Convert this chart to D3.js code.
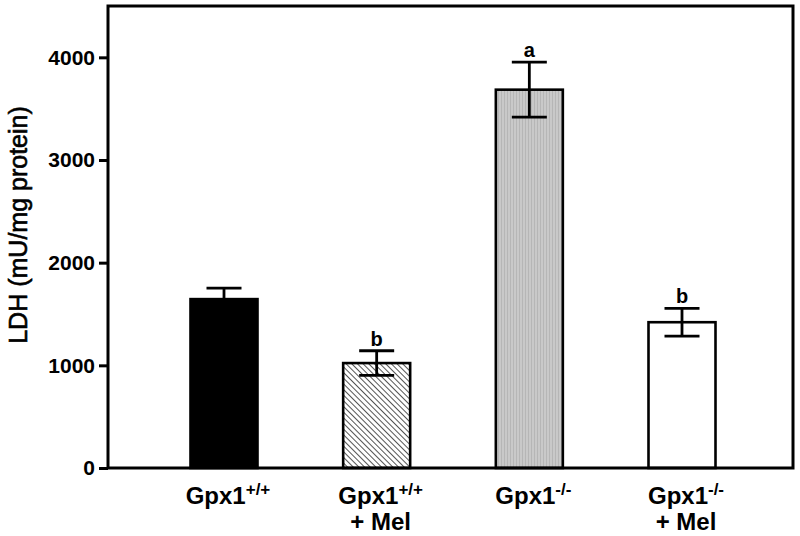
<!DOCTYPE html>
<html>
<head>
<meta charset="utf-8">
<script src="https://cdn.jsdelivr.net/npm/d3@7"></script>
<style>
  body { margin: 0; background: #fff; }
  svg { display: block; font-family: "Liberation Sans", Arial, sans-serif; }
</style>
</head>
<body>
<div id="chart"></div>
<script>
(function() {
    'use strict';

    var groups = ["g1", "g2", "g3", "g4"];
    var labelMain = ["Gpx1", "Gpx1", "Gpx1", "Gpx1"];
    var labelSup = ["+/+", "+/+", "-/-", "-/-"];
    var labelSecond = ["", "+ Mel", "", "+ Mel"];
    var means = [1645, 1022, 3685, 1420];
    var sems = [108, 120, 268, 135];
    var letters = ["", "b", "a", "b"];
    var fills = ["#000", "url(#hatch)", "url(#vstripe)", "#fff"];
    var yTicks = [0, 1000, 2000, 3000, 4000];

    var width = 800, height = 536;
    var left = 108, right = 793, top = 6, bottom = 468;
    var barWidth = 67, capHalf = 17.5;

    var svg = d3.select("#chart").append("svg")
        .attr("width", width)
        .attr("height", height);

    var defs = svg.append("defs");
    var hatch = defs.append("pattern")
        .attr("id", "hatch")
        .attr("patternUnits", "userSpaceOnUse")
        .attr("width", 4).attr("height", 4)
        .attr("patternTransform", "rotate(45)");
    hatch.append("rect").attr("width", 4).attr("height", 4).attr("fill", "#fff");
    hatch.append("line")
        .attr("x1", 0).attr("y1", 0).attr("x2", 4).attr("y2", 0)
        .attr("stroke", "#555").attr("stroke-width", 2);

    var vs = defs.append("pattern")
        .attr("id", "vstripe")
        .attr("patternUnits", "userSpaceOnUse")
        .attr("width", 3).attr("height", 10);
    vs.append("rect").attr("width", 3).attr("height", 10).attr("fill", "#c9c9c9");
    vs.append("line")
        .attr("x1", 0.5).attr("y1", 0).attr("x2", 0.5).attr("y2", 10)
        .attr("stroke", "#b6b6b6").attr("stroke-width", 1);

    var y = d3.scaleLinear().domain([0, 4500]).range([bottom, top]);
    var x = d3.scalePoint().domain(groups).range([224, 682]);

    var data = groups.map(function(g, i) {
        return { key: g, mean: means[i], sem: sems[i], letter: letters[i], fill: fills[i],
                 main: labelMain[i], sup: labelSup[i], second: labelSecond[i] };
    });

    // bars
    svg.append("g").selectAll("rect").data(data).enter()
        .append("rect")
        .attr("x", function(d) { return x(d.key) - barWidth / 2; })
        .attr("y", function(d) { return y(d.mean); })
        .attr("width", barWidth)
        .attr("height", function(d) { return bottom - y(d.mean); })
        .attr("fill", function(d) { return d.fill; })
        .attr("stroke", "#000")
        .attr("stroke-width", 2.6);

    // error bars
    var eb = svg.append("g").attr("stroke", "#000").attr("stroke-width", 2.8);
    data.forEach(function(d) {
        var cx = x(d.key);
        var lo = d.fill === "#000" ? d.mean : d.mean - d.sem;
        eb.append("line").attr("x1", cx).attr("x2", cx)
            .attr("y1", y(lo)).attr("y2", y(d.mean + d.sem));
        eb.append("line").attr("x1", cx - capHalf).attr("x2", cx + capHalf)
            .attr("y1", y(d.mean + d.sem)).attr("y2", y(d.mean + d.sem));
        if (d.fill !== "#000") {
            eb.append("line").attr("x1", cx - capHalf).attr("x2", cx + capHalf)
                .attr("y1", y(d.mean - d.sem)).attr("y2", y(d.mean - d.sem));
        }
    });

    // significance letters
    svg.append("g").selectAll("text").data(data.filter(function(d) { return d.letter; })).enter()
        .append("text")
        .attr("x", function(d) { return x(d.key); })
        .attr("y", function(d) { return y(d.mean + d.sem) - 5; })
        .attr("text-anchor", "middle")
        .attr("font-weight", "bold")
        .attr("font-size", 20)
        .text(function(d) { return d.letter; });

    // frame
    svg.append("rect")
        .attr("x", left).attr("y", top)
        .attr("width", right - left).attr("height", bottom - top)
        .attr("fill", "none").attr("stroke", "#000").attr("stroke-width", 3);

    // y axis
    var yAxis = svg.append("g")
        .attr("transform", "translate(" + left + ",0)")
        .call(d3.axisLeft(y).tickValues(yTicks).tickSize(9).tickPadding(4).tickFormat(d3.format("d")));
    yAxis.select(".domain").remove();
    yAxis.selectAll(".tick line").attr("stroke-width", 3);
    yAxis.selectAll(".tick text")
        .attr("font-size", 21).attr("font-weight", "bold")
        .attr("font-family", "Liberation Sans, Arial, sans-serif")
        .attr("fill", "#000");

    svg.append("text")
        .attr("transform", "translate(27,225) rotate(-90)")
        .attr("text-anchor", "middle")
        .attr("font-size", 25)
        .attr("stroke", "#000")
        .attr("stroke-width", 0.6)
        .text("LDH (mU/mg protein)");

    // x labels
    var xl = svg.append("g").selectAll("g").data(data).enter()
        .append("g")
        .attr("transform", function(d) { return "translate(" + x(d.key) + ",0)"; });
    xl.append("text")
        .attr("x", 4)
        .attr("y", 504)
        .attr("text-anchor", "middle")
        .attr("font-size", 24)
        .attr("font-weight", "bold")
        .each(function(d) {
            var t = d3.select(this);
            t.append("tspan").text(d.main);
            t.append("tspan").attr("dy", -9).attr("font-size", 17).text(d.sup);
        });
    xl.append("text")
        .attr("x", 4)
        .attr("y", 530)
        .attr("text-anchor", "middle")
        .attr("font-size", 24)
        .attr("font-weight", "bold")
        .text(function(d) { return d.second; });
})();
</script>
</body>
</html>
